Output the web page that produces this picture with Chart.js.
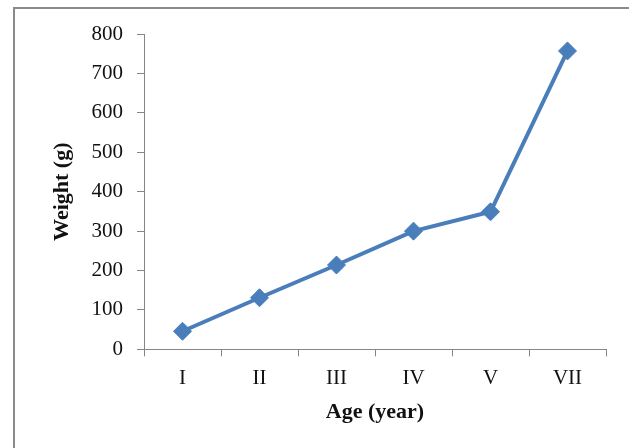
<!DOCTYPE html>
<html>
<head>
<meta charset="utf-8">
<script src="https://cdn.jsdelivr.net/npm/chart.js@4"></script>
<style>
  html, body { margin: 0; padding: 0; background: #fff; overflow: hidden; }
  #wrap { position: relative; width: 629px; height: 448px; }
  #frame {
    position: absolute; left: 13px; top: 7px; width: 640px; height: 460px;
    border-left: 2px solid #8a8a8a; border-top: 2px solid #8a8a8a;
  }
  canvas { position: absolute; left: 0; top: 0; }
</style>
</head>
<body>
<div id="wrap">
  <div id="frame"></div>
  <canvas id="chart" width="629" height="448"></canvas>
</div>
<script>
// age classes and mean weight (g)
const ageClasses = ["I", "II", "III", "IV", "V", "VII"];
const weights = [46, 131, 214, 300, 349, 757];
const yTicks = [0, 100, 200, 300, 400, 500, 600, 700, 800];

const lineBlue = "#4a7ebb";
const axisGrey = "#868686";
const serif = "'Liberation Serif', 'Times New Roman', serif";

const ctx = document.getElementById("chart");
new Chart(ctx, {
  type: "line",
  data: {
    labels: ageClasses,
    datasets: [{
      data: weights,
      borderColor: lineBlue,
      backgroundColor: lineBlue,
      borderWidth: 4,
      pointStyle: "rectRot",
      pointRadius: 9,
      pointBorderWidth: 1,
      pointBackgroundColor: lineBlue,
      pointBorderColor: lineBlue,
      tension: 0
    }]
  },
  options: {
    responsive: false,
    animation: false,
    devicePixelRatio: 1,
    layout: { padding: { top: 34, right: 23, left: 45, bottom: 12 } },
    plugins: { legend: { display: false }, tooltip: { enabled: false } },
    scales: {
      x: {
        offset: true,
        grid: { offset: true, drawOnChartArea: false, tickLength: 7, color: axisGrey },
        border: { color: axisGrey, width: 1 },
        ticks: { color: "#111", padding: 9, font: { family: serif, size: 21 } },
        title: {
          display: true, text: "Age (year)", color: "#111",
          padding: { top: 0, bottom: 10 },
          font: { family: serif, size: 22, weight: "bold" }
        }
      },
      y: {
        min: 0, max: 800,
        afterBuildTicks: (scale) => { scale.ticks = yTicks.map(v => ({ value: v })); },
        afterFit: (scale) => { scale.width = 99; },
        grid: { drawOnChartArea: false, tickLength: 7, color: axisGrey },
        border: { color: axisGrey, width: 1 },
        ticks: { color: "#111", padding: 14, font: { family: serif, size: 21 } },
        title: {
          display: true, text: "Weight (g)", color: "#111",
          padding: { top: 4, bottom: 4 },
          font: { family: serif, size: 22, weight: "bold" }
        }
      }
    }
  }
});
</script>
</body>
</html>
